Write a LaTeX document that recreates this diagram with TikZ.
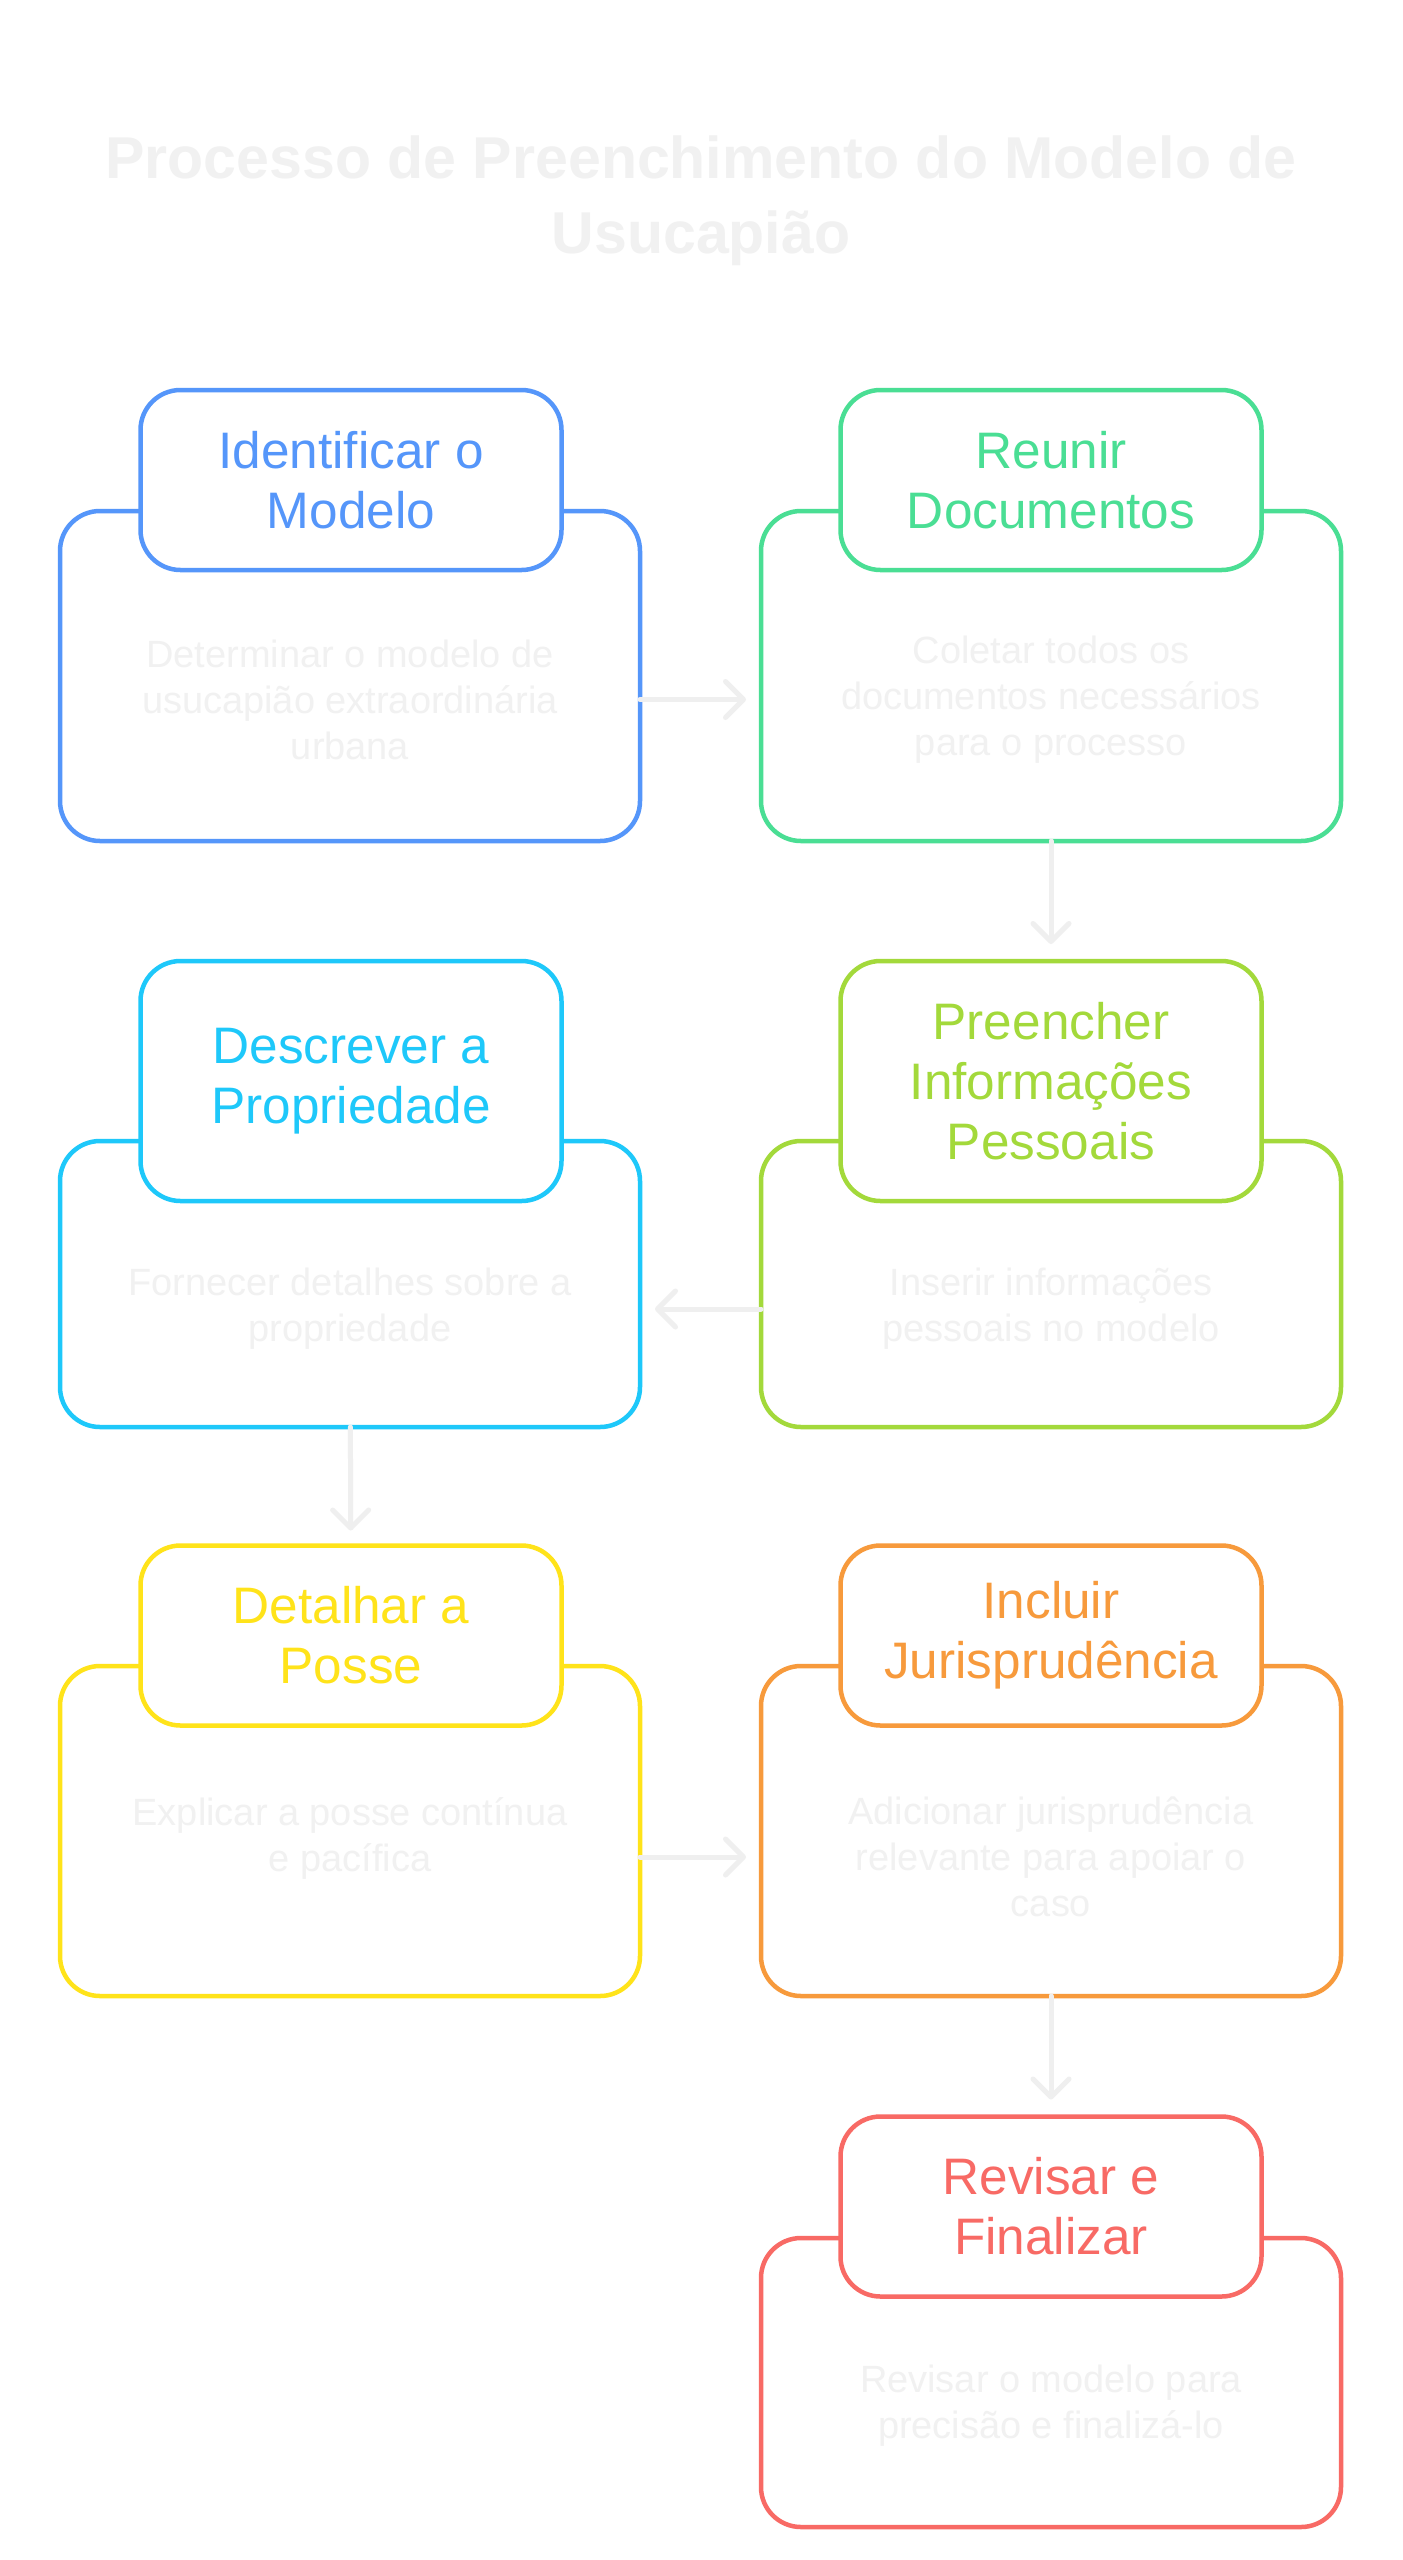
\documentclass[tikz,border=0pt]{standalone}
\usepackage{fontspec}
\setmainfont{Liberation Sans}
\usepackage{tikz}
\usetikzlibrary{arrows.meta,positioning,calc}
\definecolor{cblue}{HTML}{5596FA}
\definecolor{cgreen}{HTML}{4ADE94}
\definecolor{clime}{HTML}{A3D93B}
\definecolor{ccyan}{HTML}{1EC8FA}
\definecolor{cyellow}{HTML}{FFE31A}
\definecolor{corange}{HTML}{F79A3C}
\definecolor{cred}{HTML}{F86A65}
\definecolor{txtgray}{HTML}{F1F1F1}
\definecolor{arrowgray}{HTML}{EFEFEF}
\newcommand\headfont{\fontsize{14.6}{17.1}\selectfont}
\newcommand\bodyfont{\fontsize{10.8}{13.1}\selectfont}

\begin{document}
\begin{tikzpicture}[>={Straight Barb[length=1.8mm,width=3.6mm,round]},
  box/.style={draw=#1,line width=0.045cm,rounded corners=0.4cm,minimum width=5.8cm,inner sep=0pt,outer sep=0pt},
  head/.style={box=#1,fill=white,text=#1,minimum width=4.21cm,minimum height=1.8cm,align=center,font=\headfont},
  txt/.style={text=txtgray,align=center,font=\bodyfont},
  flow/.style={->,draw=arrowgray,line width=0.05cm,line cap=round}]
\fill[white] (0,0) rectangle (14.02,-25.6);
\node[font=\fontsize{16.8}{21.3}\selectfont\bfseries,text=txtgray,align=center] (title) at (7.01,-2.01) {Processo de Preenchimento do Modelo de\\Usucapião};
% row 1
\node[box=cblue,minimum height=3.3cm] (model-box) at (3.50,-6.76) {};
\node[head=cblue] (model-head) at (3.51,-4.80) {Identificar o\\Modelo};
\node[txt] (model-txt) at (3.50,-6.995) {Determinar o modelo de\\usucapião extraordinária\\urbana};
\node[box=cgreen,minimum height=3.3cm] (docs-box) at (10.51,-6.76) {};
\node[head=cgreen] (docs-head) at (10.51,-4.80) {Reunir\\Documentos};
\node[txt] (docs-txt) at (10.51,-6.995) {Coletar todos os\\documentos necessários\\para o processo};
% row 2
\node[box=clime,minimum height=2.86cm] (info-box) at (10.51,-12.84) {};
\node[head=clime,minimum height=2.4cm] (info-head) at (10.51,-10.81) {Preencher\\Informações\\Pessoais};
\node[txt] (info-txt) at (10.51,-13.09) {Inserir informações\\pessoais no modelo};
\node[box=ccyan,minimum height=2.86cm] (prop-box) at (3.50,-12.84) {};
\node[head=ccyan,minimum height=2.4cm] (prop-head) at (3.51,-10.81) {Descrever a\\Propriedade};
\node[txt] (prop-txt) at (3.50,-13.09) {Fornecer detalhes sobre a\\propriedade};
% row 3
\node[box=cyellow,minimum height=3.3cm] (posse-box) at (3.50,-18.31) {};
\node[head=cyellow] (posse-head) at (3.51,-16.355) {Detalhar a\\Posse};
\node[txt] (posse-txt) at (3.50,-18.38) {Explicar a posse contínua\\e pacífica};
\node[box=corange,minimum height=3.3cm] (juris-box) at (10.51,-18.31) {};
\node[head=corange] (juris-head) at (10.51,-16.355) {Incluir\\Jurisprudência};
\node[txt] (juris-txt) at (10.51,-18.57) {Adicionar jurisprudência\\relevante para apoiar o\\caso};
% row 4
\node[box=cred,minimum height=2.89cm] (final-box) at (10.51,-23.825) {};
\node[head=cred] (final-head) at (10.51,-22.065) {Revisar e\\Finalizar};
\node[txt] (final-txt) at (10.51,-24.06) {Revisar o modelo para\\precisão e finalizá-lo};
% arrows
\draw[flow,shorten >=0.15cm] (model-box.east |- model-txt) -- (docs-box.west |- model-txt);
\draw[flow,shorten >=0.17cm] (docs-box) -- (info-head);
\draw[flow,shorten >=0.15cm] (info-box.west |- info-txt) -- (prop-box.east |- info-txt);
\draw[flow,shorten >=0.15cm] (prop-box) -- (posse-head);
\draw[flow,shorten >=0.15cm] (posse-box.east |- juris-txt) -- (juris-box.west |- juris-txt);
\draw[flow,shorten >=0.17cm] (juris-box) -- (final-head);
\end{tikzpicture}
\end{document}
